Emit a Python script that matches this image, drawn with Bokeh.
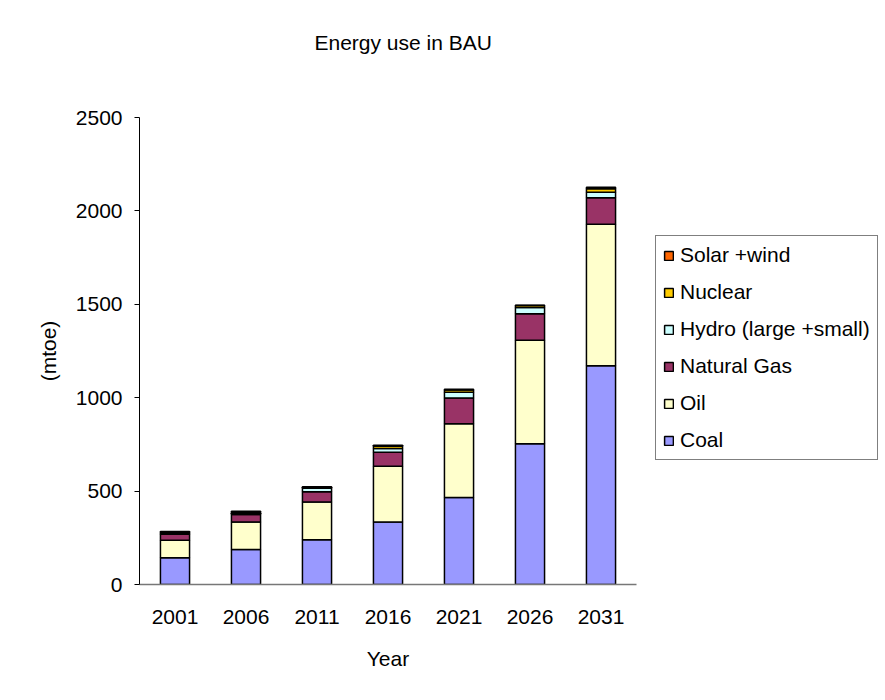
from bokeh.plotting import figure
from bokeh.models import (FactorRange, Range1d, Legend, LegendItem, FixedTicker, Title,
                          CategoricalAxis)
from bokeh.embed import file_html
from bokeh.resources import INLINE

years = ["2001", "2006", "2011", "2016", "2021", "2026", "2031"]
coal = [143, 187, 239, 334, 466, 753, 1171]
oil = [94, 147, 202, 299, 394, 555, 758]
gas = [32, 41, 55, 75, 139, 142, 141]
hydro = [7, 7, 19, 20, 30, 33, 30]
nuclear = [6, 8, 6, 12, 12, 10, 18]
solar_wind = [2, 2, 2, 6, 4, 2, 9]

series = ["Coal", "Oil", "Natural Gas", "Hydro (large +small)", "Nuclear", "Solar +wind"]
colors = ["#9999FF", "#FFFFCC", "#993366", "#CCFFFF", "#FFCC00", "#FF6600"]
y_ticks = [0, 500, 1000, 1500, 2000, 2500]

data = {"year": years, "Coal": coal, "Oil": oil, "Natural Gas": gas,
        "Hydro (large +small)": hydro, "Nuclear": nuclear, "Solar +wind": solar_wind}

FONT = "Liberation Sans"
FS = "21px"

p = figure(x_range=FactorRange(*years, range_padding=0), y_range=Range1d(0, 2500),
           width=877, height=692, output_backend="svg", toolbar_location=None, title=None,
           min_border_left=139, min_border_right=10, min_border_top=117, min_border_bottom=100)
p.frame_width = 497
p.frame_height = 467

renderers = p.vbar_stack(series, x="year", width=0.41, source=data, fill_color=colors,
                         line_color="black", line_width=1.5)

# invisible spacer axis right above the frame, then the title above it
spacer = CategoricalAxis(axis_line_color=None, major_tick_line_color=None,
                         minor_tick_line_color=None, major_tick_in=0, major_tick_out=64,
                         major_label_standoff=0, major_label_text_font_size="0px",
                         major_label_text_color=None)
p.add_layout(spacer, "above")
p.add_layout(Title(text="Energy use in BAU", align="left", offset=175, standoff=0,
                   text_font=FONT, text_font_size=FS, text_font_style="normal",
                   text_color="black"), "above")

p.grid.visible = False
p.outline_line_color = None

p.yaxis.ticker = FixedTicker(ticks=y_ticks)
p.yaxis.axis_label = "(mtoe)"
p.yaxis.axis_label_text_font = FONT
p.yaxis.axis_label_text_font_size = FS
p.yaxis.axis_label_text_font_style = "normal"
p.yaxis.axis_label_text_color = "black"
p.yaxis.axis_label_standoff = 13
p.yaxis.major_label_text_font = FONT
p.yaxis.major_label_text_font_size = FS
p.yaxis.major_label_text_color = "black"
p.yaxis.major_label_standoff = 12
p.yaxis.major_tick_in = 0
p.yaxis.major_tick_out = 5
p.yaxis.major_tick_line_color = "black"
p.yaxis.minor_tick_line_color = None
p.yaxis.axis_line_color = "black"

xa = p.below[0]
xa.axis_label = "Year"
xa.axis_label_text_font = FONT
xa.axis_label_text_font_size = FS
xa.axis_label_text_font_style = "normal"
xa.axis_label_text_color = "black"
xa.axis_label_standoff = 20
xa.major_label_text_font = FONT
xa.major_label_text_font_size = FS
xa.major_label_text_color = "black"
xa.major_label_standoff = 19
xa.major_tick_line_color = None
xa.axis_line_color = "#777777"
xa.axis_line_width = 1.5

items = [LegendItem(label=s, renderers=[r]) for s, r in zip(series, renderers)][::-1]
legend = Legend(items=items, location=(19, 124), label_text_font=FONT,
                label_text_font_size=FS, label_text_color="black",
                glyph_width=11, glyph_height=11,
                label_height=20, spacing=13, padding=7, label_standoff=6,
                border_line_color="black", border_line_width=1,
                background_fill_alpha=1, margin=0)
p.add_layout(legend, "right")

open("out.html", "w").write(file_html(p, INLINE))
